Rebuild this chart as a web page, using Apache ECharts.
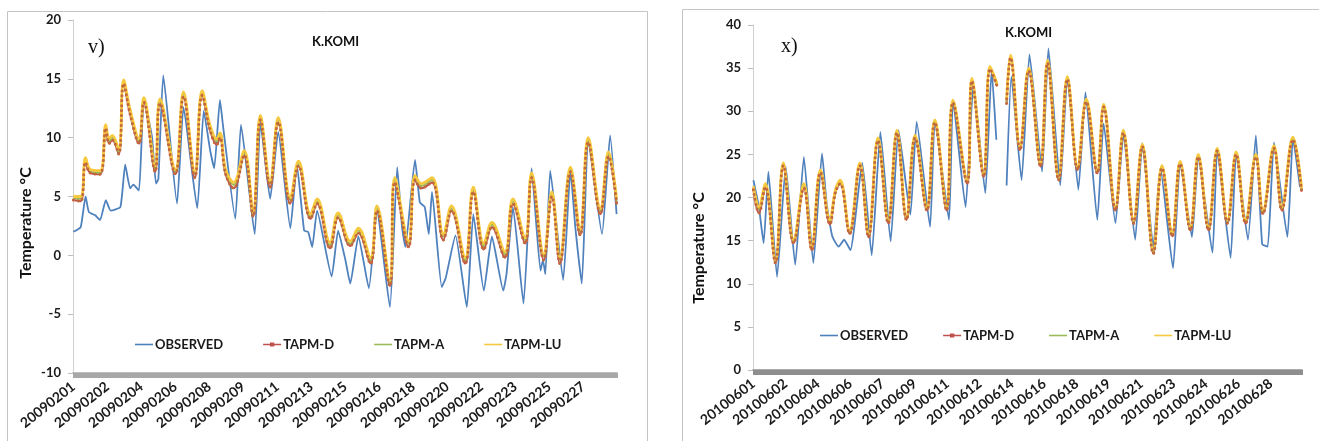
<!doctype html>
<html>
<head>
<meta charset="utf-8">
<title>K.KOMI temperature</title>
<script src="https://cdn.jsdelivr.net/npm/echarts@6/dist/echarts.min.js"></script>
<style>
  html, body { margin: 0; padding: 0; background: #fff; }
  #main { width: 1319px; height: 441px; }
</style>
</head>
<body>
<div id="main"></div>
<script>
// ---- data (hour index within the month, temperature in degC) ----
var seriesNames = ['OBSERVED', 'TAPM-D', 'TAPM-A', 'TAPM-LU'];

// panel v) February 2009, hourly, label every 42 h
var febMonth = '200902', febDays = 28, febLabelStep = 42;
var febObserved = [[0,2.0],[9,2.4],[15,5.0],[19,3.7],[27,3.4],[33,3.0],[40,4.7],[46,3.8],[58,4.1],[64,7.7],[70,5.7],[74,6.0],[81,5.5],[87,13.3],[97,10.1],[102,6.1],[105,6.5],[111,15.3],[128,4.4],[136,12.6],[153,4.0],[161,12.3],[169,8.9],[174,7.4],[181,13.2],[185,10.9],[200,3.1],[207,11.1],[224,1.8],[231,11.3],[243,4.8],[253,10.5],[268,2.3],[276,7.7],[285,2.1],[290,2.0],[295,0.7],[301,3.8],[319,-1.8],[327,2.1],[336,-0.4],[342,-2.4],[352,1.6],[365,-2.8],[375,3.8],[391,-4.4],[400,7.5],[406,2.4],[410,0.7],[422,8.1],[428,4.5],[434,4.1],[439,1.8],[443,5.4],[455,-2.7],[460,-1.9],[472,1.7],[486,-4.4],[494,3.5],[507,-3.0],[517,1.6],[531,-3.0],[535,-1.6],[543,4.1],[556,-4.1],[566,7.4],[577,-1.3],[580,-0.4],[583,-1.6],[589,7.2],[605,-2.1],[614,7.2],[620,2.4],[628,-2.4],[636,9.8],[653,1.8],[663,10.2],[671,3.5]];
var febTapmD = [[0,4.7],[9,4.6],[15,7.9],[21,7.0],[33,6.9],[40,10.8],[44,9.5],[48,9.8],[56,8.6],[62,14.6],[70,12.0],[81,9.5],[87,13.0],[101,7.1],[107,12.9],[126,6.9],[136,13.5],[150,6.6],[159,13.6],[169,10.6],[177,9.4],[181,10.0],[188,6.9],[198,5.7],[211,8.5],[222,3.3],[231,11.5],[243,5.8],[253,11.3],[268,4.4],[278,7.6],[293,3.1],[301,4.4],[317,0.6],[327,3.2],[342,0.8],[352,1.9],[367,-0.7],[375,3.8],[391,-2.6],[397,6.2],[414,0.7],[422,6.4],[430,5.7],[443,6.2],[457,1.3],[467,3.8],[484,-0.7],[494,5.4],[507,0.5],[517,2.4],[533,-0.2],[543,4.4],[558,1.0],[566,6.6],[581,-0.4],[591,5.0],[601,-0.7],[614,7.1],[626,1.7],[636,9.6],[651,3.5],[661,8.4],[671,4.4]];
var febTapmA = [[0,4.9],[9,4.8],[15,8.1],[21,7.2],[33,7.0],[40,10.9],[44,9.7],[48,10.0],[56,8.8],[62,14.7],[70,12.2],[81,9.7],[87,13.2],[101,7.4],[107,13.1],[126,7.1],[136,13.7],[150,6.9],[159,13.8],[169,10.8],[177,9.7],[181,10.2],[188,7.1],[198,6.0],[211,8.7],[222,3.5],[231,11.7],[243,6.1],[253,11.5],[268,4.7],[278,7.8],[293,3.3],[301,4.6],[317,0.9],[327,3.4],[342,1.0],[352,2.1],[367,-0.4],[375,4.0],[391,-2.3],[397,6.4],[414,1.0],[422,6.6],[430,5.9],[443,6.4],[457,1.6],[467,4.0],[484,-0.4],[494,5.6],[507,0.8],[517,2.6],[533,0.1],[543,4.6],[558,1.3],[566,6.8],[581,-0.1],[591,5.2],[601,-0.4],[614,7.3],[626,2.0],[636,9.8],[651,3.8],[661,8.6],[671,4.6]];
var febTapmLU = [[0,5.0],[9,5.0],[15,8.3],[21,7.3],[33,7.2],[40,11.1],[44,9.9],[48,10.2],[56,9.0],[62,14.9],[70,12.4],[81,9.9],[87,13.4],[101,7.6],[107,13.3],[126,7.3],[136,13.9],[150,7.1],[159,14.0],[169,11.0],[177,9.9],[181,10.4],[188,7.3],[198,6.2],[211,8.9],[222,3.7],[231,11.9],[243,6.3],[253,11.7],[268,4.9],[278,8.0],[293,3.5],[301,4.8],[317,1.1],[327,3.6],[342,1.2],[352,2.3],[367,-0.2],[375,4.2],[391,-2.1],[397,6.6],[414,1.2],[422,6.8],[430,6.1],[443,6.6],[457,1.8],[467,4.2],[484,-0.2],[494,5.8],[507,1.0],[517,2.8],[533,0.3],[543,4.8],[558,1.5],[566,7.0],[581,0.1],[591,5.4],[601,-0.2],[614,7.5],[626,2.2],[636,10.0],[651,4.0],[661,8.8],[671,4.8]];

// panel x) June 2010, hourly, label every 41 h ('-' = missing hours)
var junMonth = '201006', junDays = 29, junLabelStep = 41;
var junObserved = [[0,22.0],[7,18.9],[13,14.7],[19,23.0],[30,10.8],[41,23.6],[53,12.2],[64,24.7],[76,12.4],[87,25.1],[93,19.2],[100,15.5],[108,14.3],[115,15.1],[123,13.9],[138,24.0],[150,13.3],[161,27.6],[174,14.9],[184,27.8],[199,18.0],[207,28.8],[224,16.6],[230,29.0],[248,17.4],[253,31.3],[269,18.9],[279,33.2],[294,20.5],[302,34.8],[308,26.7],[315,'-'],[321,21.4],[327,34.0],[340,22.0],[350,36.6],[366,23.0],[374,37.3],[389,21.4],[398,34.0],[412,20.9],[421,32.2],[436,17.4],[444,28.6],[459,17.0],[469,27.2],[484,15.1],[493,26.3],[507,14.3],[516,23.4],[532,11.8],[541,24.1],[556,15.4],[564,24.7],[582,13.6],[588,25.5],[605,13.0],[612,25.2],[627,15.1],[637,27.2],[645,14.6],[652,14.3],[660,26.4],[677,15.4],[684,26.9],[693,21.2]];
var junTapmD = [[0,20.9],[7,18.2],[15,21.2],[28,12.4],[38,23.7],[51,14.7],[64,21.1],[74,13.9],[85,22.9],[97,16.9],[104,20.6],[110,21.6],[122,15.8],[135,23.7],[146,15.4],[158,26.6],[171,17.0],[182,27.5],[194,17.4],[205,26.9],[220,18.5],[230,28.7],[245,18.5],[253,31.0],[271,21.6],[277,33.5],[292,22.4],[300,34.9],[309,32.9],[315,'-'],[321,30.9],[326,36.2],[338,25.5],[349,34.7],[364,23.6],[373,35.6],[387,22.0],[398,33.7],[411,23.2],[422,31.1],[436,22.8],[444,30.5],[459,18.5],[469,27.5],[482,17.0],[493,25.9],[507,13.5],[518,23.4],[531,15.5],[541,23.9],[554,16.2],[564,24.7],[577,16.2],[588,25.4],[601,17.0],[612,25.0],[624,17.0],[637,24.7],[646,18.1],[660,25.7],[670,18.5],[684,26.7],[695,20.7]];
var junTapmA = [[0,21.1],[7,18.6],[15,21.4],[28,12.6],[38,23.8],[51,14.9],[64,21.4],[74,14.1],[85,23.0],[97,17.2],[104,20.7],[110,21.8],[122,16.0],[135,23.8],[146,15.6],[158,26.7],[171,17.2],[182,27.6],[194,17.6],[205,27.0],[220,18.7],[230,28.8],[245,18.7],[253,31.1],[271,21.8],[277,33.6],[292,22.6],[300,35.0],[309,33.0],[315,'-'],[321,31.1],[326,36.3],[338,25.7],[349,34.8],[364,23.8],[373,35.7],[387,22.2],[398,33.8],[411,23.4],[422,31.2],[436,23.0],[444,30.6],[459,18.7],[469,27.6],[482,17.2],[493,26.0],[507,13.7],[518,23.5],[531,15.7],[541,24.0],[554,16.4],[564,24.8],[577,16.4],[588,25.5],[601,17.2],[612,25.1],[624,17.2],[637,24.8],[646,18.3],[660,25.8],[670,18.7],[684,26.8],[695,20.9]];
var junTapmLU = [[0,21.3],[7,18.9],[15,21.6],[28,12.8],[38,24.0],[51,15.1],[64,21.6],[74,14.3],[85,23.2],[97,17.4],[104,20.9],[110,22.0],[122,16.2],[135,24.0],[146,15.8],[158,26.9],[171,17.4],[182,27.8],[194,17.8],[205,27.2],[220,18.9],[230,29.0],[245,18.9],[253,31.3],[271,22.0],[277,33.8],[292,22.8],[300,35.2],[309,33.2],[315,'-'],[321,31.3],[326,36.5],[338,25.9],[349,35.0],[364,24.0],[373,35.9],[387,22.4],[398,34.0],[411,23.6],[422,31.4],[436,23.2],[444,30.8],[459,18.9],[469,27.8],[482,17.4],[493,26.2],[507,13.9],[518,23.7],[531,15.9],[541,24.2],[554,16.6],[564,25.0],[577,16.6],[588,25.7],[601,17.4],[612,25.3],[624,17.4],[637,25.0],[646,18.5],[660,26.0],[670,18.9],[684,27.0],[695,21.1]];

// ---- helpers ----
function hourlyCategories(month, days) {
    var out = [];
    for (var d = 1; d <= days; d++) {
        for (var h = 0; h < 24; h++) {
            out.push(month + (d < 10 ? '0' + d : d) + (h < 10 ? '0' + h : h));
        }
    }
    return out;
}

var FONT = 'Lato';
var colObs = '#4f81bd', colD = '#c0504d', colA = '#9bbb59', colLU = '#f7c93e', colDot = '#c4693c';

// legend icons: plain line, or line with a marker (TAPM-D)
var iconLine = 'path://M0,0H18V1.6H0Z';
var iconMarker = 'path://M0,2.2H6.8V0.9H11.2V2.2H18V3.8H11.2V5.1H6.8V3.8H0Z';

function panelSeries(idx, obs, d, a, lu) {
    return [
        { name: 'OBSERVED', type: 'line', xAxisIndex: idx, yAxisIndex: idx, data: obs,
          symbol: 'none', smooth: 0.15, lineStyle: { color: colObs, width: 1.8 }, itemStyle: { color: colObs } },
        { name: 'TAPM-D', type: 'line', xAxisIndex: idx, yAxisIndex: idx, data: d,
          symbol: 'none', smooth: 0.4, lineStyle: { color: colD, width: 2 }, itemStyle: { color: colD } },
        { name: 'TAPM-A', type: 'line', xAxisIndex: idx, yAxisIndex: idx, data: a,
          symbol: 'none', smooth: 0.4, lineStyle: { color: colA, width: 2 }, itemStyle: { color: colA } },
        { name: 'TAPM-LU', type: 'line', xAxisIndex: idx, yAxisIndex: idx, data: lu,
          symbol: 'none', smooth: 0.4, lineStyle: { color: colLU, width: 2.8 }, itemStyle: { color: colLU } },
        // TAPM-D markers (hourly dots) drawn on top
        { name: 'TAPM-D markers', type: 'line', xAxisIndex: idx, yAxisIndex: idx, data: d,
          symbol: 'none', smooth: 0.4, silent: true, z: 5,
          lineStyle: { color: colDot, width: 3, type: [0.1, 4.8], cap: 'round' } }
    ];
}

function xAxisFor(idx, cats, step, lineColor) {
    return {
        type: 'category', gridIndex: idx, data: cats, boundaryGap: true,
        axisLine: { onZero: false, lineStyle: { color: lineColor, width: 1.5 } },
        axisTick: { show: true, interval: 0, length: 5, lineStyle: { color: lineColor } },
        axisLabel: {
            interval: step - 1, rotate: 38, margin: 12,
            fontFamily: FONT, fontWeight: 'bold', fontSize: 14, color: '#1a1a1a',
            formatter: function (v) { return v.slice(0, 8); }
        },
        splitLine: { show: false }
    };
}

function yAxisFor(idx, min, max) {
    return {
        type: 'value', gridIndex: idx, min: min, max: max, interval: 5,
        axisLine: { show: true, lineStyle: { color: '#d0d0d0' } },
        axisTick: { show: true, length: 5, lineStyle: { color: '#bdbdbd' } },
        axisLabel: { fontFamily: FONT, fontWeight: 'bold', fontSize: 13, color: '#1a1a1a', margin: 12 },
        splitLine: { show: false }
    };
}

function legendFor(left, top, gap) {
    return {
        data: [
            { name: 'OBSERVED', icon: iconLine },
            { name: 'TAPM-D', icon: iconMarker },
            { name: 'TAPM-A', icon: iconLine },
            { name: 'TAPM-LU', icon: iconLine }
        ],
        left: left, top: top, orient: 'horizontal', padding: 0,
        itemWidth: 18, itemHeight: 10, itemGap: gap, selectedMode: false,
        textStyle: { fontFamily: FONT, fontWeight: 'bold', fontSize: 13, color: '#1a1a1a', padding: [0, 0, 0, -3] }
    };
}

function rotatedTitle(text, x, y) {
    return { type: 'text', x: x, y: y, rotation: Math.PI / 2,
        style: { text: text, font: 'bold 16px ' + FONT, fill: '#111', align: 'center', verticalAlign: 'middle' } };
}

function label(text, x, y, font) {
    return { type: 'text', x: x, y: y, style: { text: text, font: font, fill: '#111', verticalAlign: 'middle' } };
}

var febCats = hourlyCategories(febMonth, febDays);
var junCats = hourlyCategories(junMonth, junDays);

var myChart = echarts.init(document.getElementById('main'), null, { renderer: 'canvas' });

myChart.setOption({
    backgroundColor: '#ffffff',
    animation: false,
    grid: [
        { left: 73, top: 20, width: 544, height: 353 },
        { left: 753, top: 25, width: 549, height: 345 }
    ],
    xAxis: [xAxisFor(0, febCats, febLabelStep, '#a8a8a8'), xAxisFor(1, junCats, junLabelStep, '#8e8e8e')],
    yAxis: [yAxisFor(0, -10, 20), yAxisFor(1, 0, 40)],
    legend: [legendFor(135, 338, 40), legendFor(820, 329, 35)],
    series: panelSeries(0, febObserved, febTapmD, febTapmA, febTapmLU)
        .concat(panelSeries(1, junObserved, junTapmD, junTapmA, junTapmLU)),
    graphic: [
        { type: 'rect', shape: { x: 7.5, y: 11.5, width: 640, height: 460 }, style: { fill: 'none', stroke: '#c4c4c4', lineWidth: 1 }, z: -1 },
        { type: 'rect', shape: { x: 682.5, y: 9.5, width: 700, height: 460 }, style: { fill: 'none', stroke: '#c4c4c4', lineWidth: 1 }, z: -1 },
        label('v)', 88, 48, '20px "Liberation Serif"'),
        label('x)', 781, 47, '20px "Liberation Serif"'),
        label('K.KOMI', 312, 42, 'bold 13px ' + FONT),
        label('K.KOMI', 1005, 33, 'bold 13px ' + FONT),
        rotatedTitle('Temperature \u00b0C', 26, 223),
        rotatedTitle('Temperature \u00b0C', 699, 248)
    ]
});
</script>
</body>
</html>
